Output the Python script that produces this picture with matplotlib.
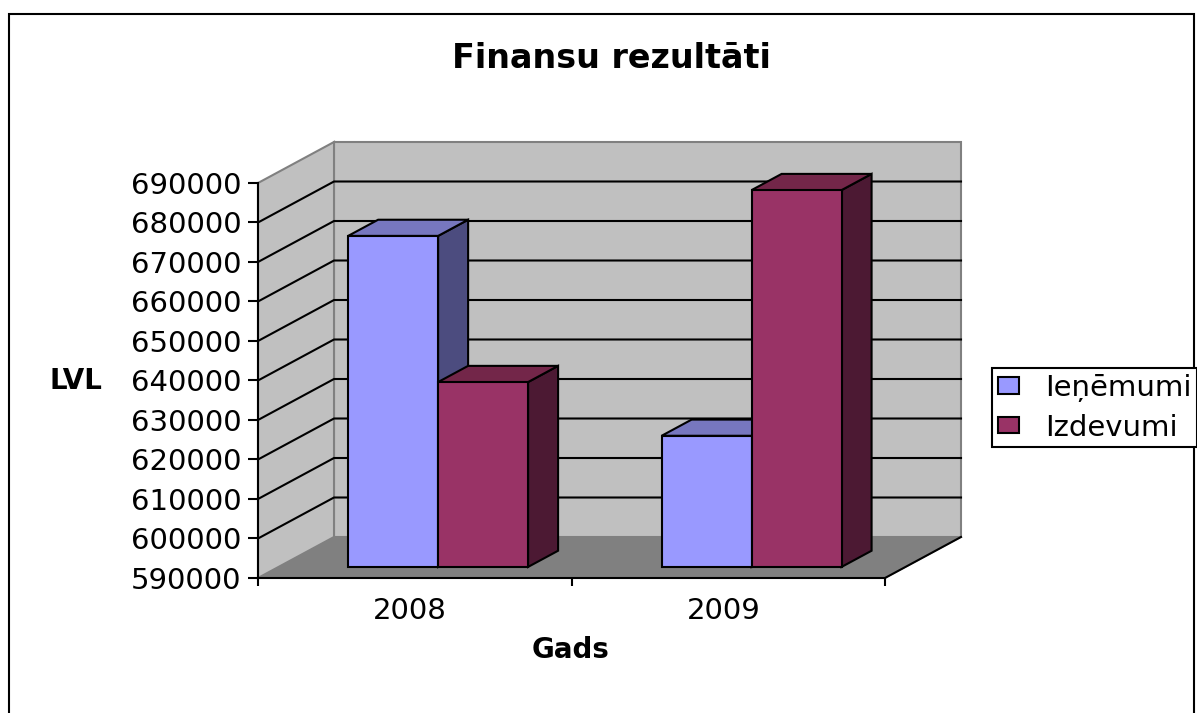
import matplotlib
matplotlib.use("Agg")
import matplotlib.pyplot as plt
from matplotlib.patches import Patch, Rectangle

plt.rcParams['font.family'] = ['DejaVu Sans']

# data
years = ["2008", "2009"]
ienemumi = [673800, 623200]
izdevumi = [636800, 685400]
y_ticks = [590000, 600000, 610000, 620000, 630000, 640000,
           650000, 660000, 670000, 680000, 690000]
title = "Finansu rezultāti"
series_names = ["Ieņēmumi", "Izdevumi"]

W, H = 1197, 713
fig = plt.figure(figsize=(W/100, H/100), dpi=100)
# front plane of the fake 3d box, in pixels
ax = fig.add_axes([258/W, (H-578)/H, 627/W, 395/H])
ax.set_xlim(0, 2)
ax.set_ylim(y_ticks[0], y_ticks[-1])
ax.patch.set_visible(False)

# depth vector of the box, in data units per unit of depth
dx = 76/313.5
dy = 41/395*(y_ticks[-1]-y_ticks[0])


def proj(x, y, d):
    return x + d*dx, y + d*dy


def face(points, color, edge='black', lw=1.5, z=2):
    pts = [proj(*p) for p in points]
    ax.fill([p[0] for p in pts], [p[1] for p in pts], facecolor=color,
            edgecolor=edge, linewidth=lw, zorder=z, clip_on=False, joinstyle='miter')


ymin, ymax = y_ticks[0], y_ticks[-1]
# walls and floor
face([(0, ymin, 0), (2, ymin, 0), (2, ymin, 1), (0, ymin, 1)], '#808080', edge='#808080', lw=1, z=1)
face([(0, ymin, 1), (2, ymin, 1), (2, ymax, 1), (0, ymax, 1)], '#C0C0C0', edge='#808080', z=1)
face([(0, ymin, 0), (0, ymin, 1), (0, ymax, 1), (0, ymax, 0)], '#C0C0C0', edge='#808080', z=1)

# gridlines
for v in y_ticks[1:-1]:
    xs, ys = zip(proj(0, v, 0), proj(0, v, 1), proj(2, v, 1))
    ax.plot(xs, ys, color='black', lw=1.5, zorder=1.5, clip_on=False, solid_joinstyle='miter')
xs, ys = zip(proj(2, ymin, 0), proj(2, ymin, 1))
ax.plot(xs, ys, color='black', lw=1.5, zorder=1.5, clip_on=False)


def bar3d(x, w, v, front, top, side, z):
    d0, d1 = 0.27, 0.665
    face([(x+w, ymin, d0), (x+w, ymin, d1), (x+w, v, d1), (x+w, v, d0)], side, z=z)
    face([(x, v, d0), (x+w, v, d0), (x+w, v, d1), (x, v, d1)], top, z=z)
    face([(x, ymin, d0), (x+w, ymin, d0), (x+w, v, d0), (x, v, d0)], front, z=z)


bar_off = 0.222
bar_w = 0.287
for i in range(len(years)):
    bar3d(i+bar_off, bar_w, ienemumi[i], '#9999FF', '#7777BF', '#4C4C7F', 3+i*2)
    bar3d(i+bar_off+bar_w, bar_w, izdevumi[i], '#993366', '#732649', '#4C1933', 4+i*2)

# axes
for s in ['top', 'right']:
    ax.spines[s].set_visible(False)
for s in ['left', 'bottom']:
    ax.spines[s].set_linewidth(1.5)
    ax.spines[s].set_zorder(2.5)
ax.set_yticks(y_ticks)
ax.set_yticklabels([str(v) for v in y_ticks], fontsize=21)
ax.tick_params(axis='y', length=7, width=1.5, pad=5)
ax.set_xticks([0, 1, 2])
ax.set_xticklabels([])
ax.tick_params(axis='x', which='major', length=6, width=1.5)
ax.set_xticks([0.485, 1.485], minor=True)
ax.set_xticklabels(years, minor=True, fontsize=21)
ax.tick_params(axis='x', which='minor', length=0, pad=14)

fig.text(611/W, 1-59/H, title, fontsize=24, fontweight='bold', ha='center', va='center')
fig.text(76/W, 1-381/H, "LVL", fontsize=20, fontweight='bold', ha='center', va='center')
fig.text(571/W, 1-650/H, "Gads", fontsize=20, fontweight='bold', ha='center', va='center')

# outer chart border, runs off the bottom of the image
fig.add_artist(Rectangle((9/W, -0.05), 1185/W, 1.05-14/H, transform=fig.transFigure,
                         fill=False, edgecolor='black', linewidth=1.5))

handles = [Patch(facecolor='#9999FF', edgecolor='black', linewidth=1.5),
           Patch(facecolor='#993366', edgecolor='black', linewidth=1.5)]
leg = fig.legend(handles, series_names, loc='upper left', bbox_to_anchor=(992/W, 1-368/H),
                 fontsize=21, fancybox=False, edgecolor='black', framealpha=1,
                 handlelength=0.72, handleheight=0.5, handletextpad=0.9,
                 labelspacing=0.4, borderpad=0.2, borderaxespad=0)
leg.get_frame().set_linewidth(1.5)
leg.set_zorder(10)

fig.savefig("out.png", dpi=100)
